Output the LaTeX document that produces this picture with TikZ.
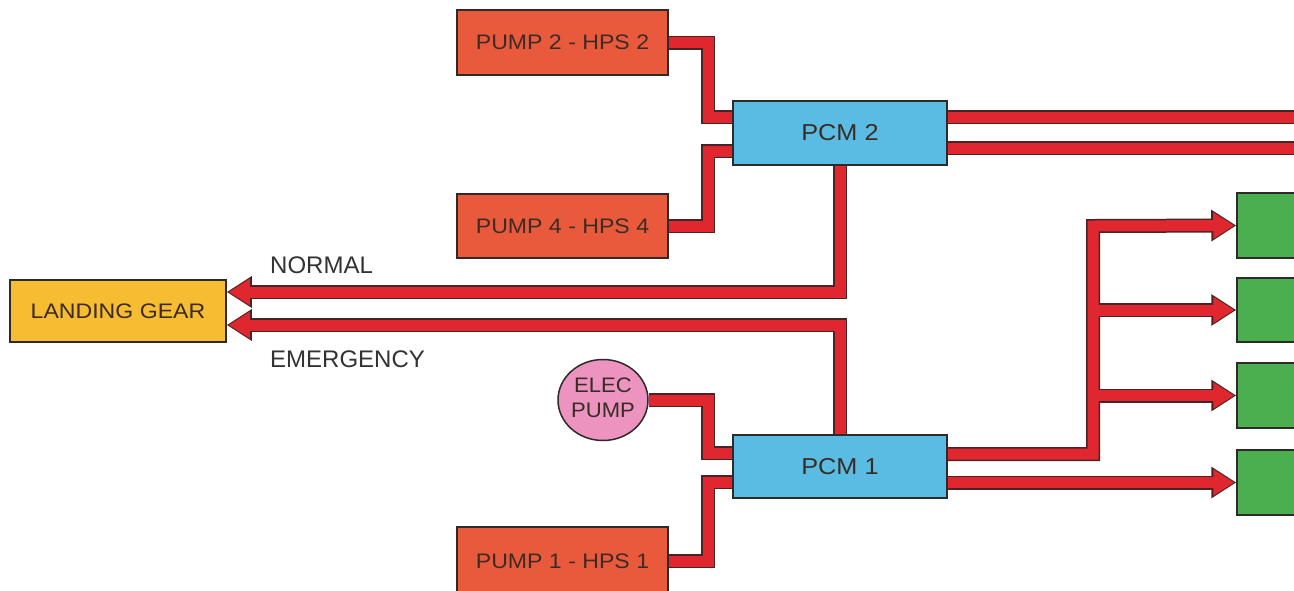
\documentclass[tikz,border=0pt]{standalone}
\usepackage{fontspec}
\usepackage{graphicx}
\setmainfont{Liberation Sans}
\usetikzlibrary{arrows.meta,shapes.geometric,backgrounds}
\definecolor{pumpc}{HTML}{E95A3C}
\definecolor{pcmc}{HTML}{5BBCE3}
\definecolor{gearc}{HTML}{F6BC32}
\definecolor{greenc}{HTML}{4BAE4F}
\definecolor{pinkc}{HTML}{EC93C0}
\definecolor{pipered}{HTML}{E0262E}
\definecolor{pipedark}{HTML}{4A2424}
\definecolor{boxline}{HTML}{2E2A28}
\definecolor{txtc}{HTML}{3A2C24}
\definecolor{labelc}{HTML}{333333}
\newcommand\drawpipes[2]{%
  \draw[#1] (p2.east) -| (708,117) -- (pcm2.west |- 0,117);
  \draw[#1] (p4.east) -| (708,151) -- (pcm2.west |- 0,151);
  \draw[#1] (pcm2.east |- 0,117) -- (1310,117);
  \draw[#1] (pcm2.east |- 0,148) -- (1310,148);
  \draw[#1,#2] (pcm2.south) |- (lg.east |- 0,292);
  \draw[#1,#2] (pcm1.north) |- (lg.east |- 0,325);
  \draw[#1] (elec.east) -| (708,453) -- (pcm1.west |- 0,453);
  \draw[#1] (p1.east) -| (708,482) -- (pcm1.west |- 0,482);
  \draw[#1,#2] (pcm1.east |- 0,454) -| (1093,226) -- (g1.west);
  \draw[#1,#2] (1093,310) -- (g2.west);
  \draw[#1,#2] (1093,395.5) -- (g3.west);
  \draw[#1,#2] (pcm1.east |- 0,482.5) -- (g4.west);
}
\begin{document}
\begin{tikzpicture}[x=1pt,y=-1pt,
  box/.style={draw=boxline, line width=1.5pt, rectangle, inner sep=0pt, text=txtc,
    font=\fontsize{21}{25}\selectfont},
  pumpbox/.style={box, fill=pumpc, minimum width=211pt, minimum height=65pt},
  pcmbox/.style={box, fill=pcmc, minimum width=214pt, minimum height=64pt,
    font=\fontsize{23}{26}\selectfont},
  gearbox/.style={box, fill=gearc, minimum width=216pt, minimum height=62pt},
  greenbox/.style={box, fill=greenc, minimum width=64pt, minimum height=65pt},
  elecpump/.style={draw=boxline, line width=1.5pt, ellipse, fill=pinkc,
    minimum width=90pt, minimum height=81pt, inner sep=0pt},
  flowlabel/.style={anchor=base west, inner sep=0pt, text=labelc,
    font=\fontsize{24}{28}\selectfont},
  pipeout/.style={draw=pipedark, line width=14pt},
  pipein/.style={draw=pipered, line width=11pt},
  tipout/.style={-{Triangle[length=25pt,width=30pt]}},
  tipin/.style={shorten >=2pt,-{Triangle[length=21pt,width=25pt]}},
]
\useasboundingbox (0,0) rectangle (1294,590);
% nodes
\node[pumpbox] (p2) at (562.5,42.5) {\scalebox{1.1}[1]{PUMP 2 - HPS 2}};
\node[pumpbox, minimum height=64pt] (p4) at (562.5,226) {\scalebox{1.1}[1]{PUMP 4 - HPS 4}};
\node[pumpbox, minimum height=68pt] (p1) at (562.5,561) {\scalebox{1.1}[1]{PUMP 1 - HPS 1}};
\node[pcmbox] (pcm2) at (840,133) {\scalebox{1.1}[1]{PCM 2}};
\node[pcmbox, minimum height=63pt] (pcm1) at (840,466.5) {\scalebox{1.1}[1]{PCM 1}};
\node[gearbox] (lg) at (118,311) {\scalebox{1.1}[1]{LANDING GEAR}};
\node[elecpump, label={[text=txtc, inner sep=0pt, font=\fontsize{21}{25}\selectfont]center:{\scalebox{1.05}[1]{\begin{tabular}{@{}c@{}}ELEC\\PUMP\end{tabular}}}}] (elec) at (603,400) {};
\node[greenbox] (g1) at (1269,225.5) {};
\node[greenbox, minimum height=64pt] (g2) at (1269,310) {};
\node[greenbox] (g3) at (1269,395.5) {};
\node[greenbox] (g4) at (1269,482.5) {};
\node[flowlabel] (normal) at (270,273) {NORMAL};
\node[flowlabel] (emerg) at (270,367) {EMERGENCY};
% pipes
\begin{scope}[on background layer]
  \fill[white] (0,0) rectangle (1294,590);
  \drawpipes{pipeout}{tipout}
  \drawpipes{pipein}{tipin}
\end{scope}
\end{tikzpicture}
\end{document}
